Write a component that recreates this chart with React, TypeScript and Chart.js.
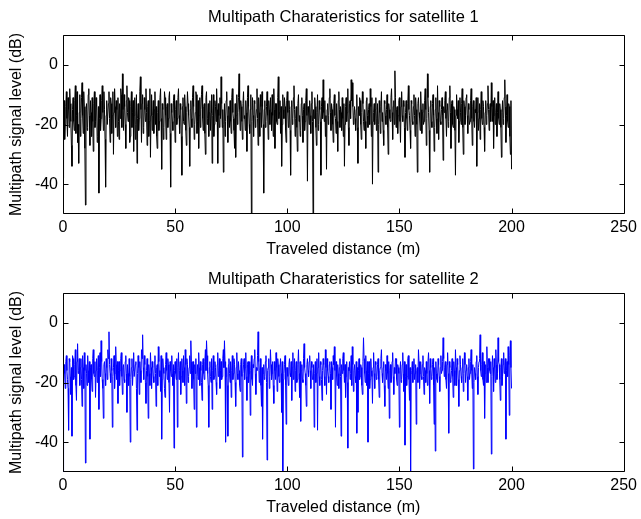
import { useEffect, useRef } from "react";
import { Chart, registerables } from "chart.js";

Chart.register(...registerables);

// sampling step of the traveled distance (m)
const STEP_M = 0.25;

// Satellite 1 multipath signal level (dB), one value every 0.25 m from 0 to 200 m (40 per row = 10 m)
const SAT1_DB = [
  -38, -16, -12, -25, -20, -14, -9, -18, -24, -11, -15, -21, -8, -13, -19, -27, -34, -15, -11, -19, -22, -12, -7, -23, -17, -9, -26, -20, -33, -16, -10, -24, -18, -11, -6, -17, -23, -9, -14, -28,
  -47, -15, -13, -22, -21, -10, -8, -17, -27, -12, -16, -24, -11, -19, -29, -13, -9, -21, -19, -11, -14, -26, -24, -14, -43, -18, -10, -22, -18, -12, -7, -16, -22, -9, -15, -25, -41, -17, -12, -20,
  -20, -13, -9, -18, -26, -11, -13, -23, -17, -9, -30, -16, -8, -14, -21, -12, -15, -24, -11, -19, -25, -13, -18, -8, -10, -21, -3, -15, -22, -10, -14, -20, -28, -12, -7, -16, -19, -11, -12, -26,
  -24, -14, -9, -21, -16, -12, -29, -17, -11, -25, -20, -10, -33, -18, -13, -22, -18, -9, -4, -15, -26, -13, -10, -23, -21, -11, -15, -19, -8, -16, -27, -14, -12, -24, -19, -8, -31, -17, -10, -22,
  -17, -12, -23, -15, -9, -20, -14, -24, -28, -16, -12, -22, -19, -11, -8, -18, -35, -13, -15, -25, -21, -9, -11, -17, -25, -14, -13, -21, -18, -11, -9, -23, -41, -13, -16, -19, -22, -12, -10, -18,
  -26, -15, -12, -20, -18, -11, -8, -17, -23, -13, -15, -24, -37, -14, -11, -19, -20, -10, -14, -22, -27, -16, -9, -13, -17, -21, -34, -15, -12, -18, -21, -11, -7, -14, -25, -20, -16, -9, -10, -23,
  -19, -12, -28, -17, -11, -21, -15, -10, -7, -18, -22, -14, -13, -23, -30, -11, -9, -20, -18, -13, -24, -16, -12, -22, -16, -10, -33, -17, -10, -24, -20, -12, -14, -19, -8, -15, -33, -13, -17, -21,
  -11, -18, -4, -13, -21, -15, -36, -20, -13, -24, -19, -12, -9, -17, -26, -14, -15, -21, -12, -19, -23, -11, -8, -16, -18, -22, -28, -13, -31, -17, -10, -20, -16, -11, -3, -15, -22, -12, -14, -19,
  -25, -13, -9, -18, -17, -22, -12, -16, -29, -11, -7, -14, -20, -23, -15, -10, -50, -19, -11, -17, -24, -12, -13, -21, -18, -15, -8, -18, -27, -11, -16, -24, -10, -14, -21, -9, -14, -20, -43, -15,
  -12, -21, -19, -14, -9, -17, -25, -12, -15, -20, -11, -16, -22, -10, -17, -24, -8, -15, -28, -13, -13, -19, -20, -11, -4, -18, -16, -12, -23, -14, -34, -20, -10, -15, -18, -11, -14, -22, -26, -12,
  -9, -16, -21, -12, -15, -22, -37, -14, -12, -20, -18, -11, -7, -15, -24, -18, -14, -21, -29, -13, -10, -19, -17, -24, -22, -13, -11, -17, -26, -15, -13, -22, -19, -12, -8, -17, -39, -14, -16, -20,
  -12, -17, -23, -13, -9, -19, -50, -15, -18, -11, -14, -21, -27, -16, -10, -22, -20, -12, -15, -19, -37, -14, -11, -18, -5, -16, -19, -12, -24, -17, -35, -15, -13, -20, -17, -11, -8, -16, -22, -13,
  -15, -20, -26, -13, -10, -17, -18, -23, -13, -19, -29, -12, -9, -15, -21, -14, -16, -22, -11, -18, -24, -13, -34, -20, -14, -11, -19, -16, -8, -21, -27, -13, -12, -18, -5, -12, -6, -14, -20, -17,
  -14, -18, -22, -15, -10, -21, -33, -14, -17, -11, -12, -20, -25, -16, -9, -13, -19, -22, -15, -19, -28, -12, -11, -17, -21, -15, -13, -20, -8, -14, -24, -11, -40, -19, -16, -13, -20, -15, -11, -22,
  -18, -13, -36, -20, -12, -16, -23, -14, -9, -19, -16, -22, -27, -12, -13, -17, -20, -15, -10, -21, -30, -13, -15, -18, -19, -11, -8, -16, -25, -14, -12, -20, -2, -11, -21, -15, -14, -23, -17, -12,
  -11, -19, -26, -14, -9, -17, -19, -12, -14, -21, -31, -16, -12, -18, -22, -13, -7, -15, -17, -22, -28, -12, -13, -19, -20, -14, -10, -17, -24, -11, -15, -20, -36, -13, -11, -16, -18, -22, -9, -15,
  -23, -16, -13, -20, -19, -12, -8, -15, -27, -18, -3, -11, -16, -22, -36, -14, -12, -19, -21, -13, -10, -17, -29, -21, -15, -11, -18, -23, -7, -16, -25, -12, -14, -19, -20, -15, -11, -17, -32, -14,
  -16, -12, -9, -18, -24, -15, -13, -21, -19, -11, -7, -16, -28, -13, -12, -20, -21, -14, -15, -22, -37, -17, -10, -15, -18, -12, -26, -19, -11, -16, -20, -13, -8, -21, -30, -12, -14, -20, -17, -11,
  -10, -17, -23, -13, -15, -20, -19, -12, -8, -18, -27, -14, -12, -19, -21, -15, -16, -11, -34, -16, -11, -22, -18, -13, -25, -15, -9, -18, -20, -12, -14, -21, -29, -16, -12, -20, -17, -13, -7, -15,
  -22, -15, -13, -19, -6, -14, -19, -12, -28, -17, -11, -20, -16, -13, -24, -16, -9, -18, -20, -13, -15, -21, -31, -16, -12, -20, -18, -11, -5, -14, -26, -17, -10, -19, -21, -13, -14, -24, -30, -12,
  -35,
];

// Satellite 2 multipath signal level (dB), one value every 0.25 m from 0 to 200 m (40 per row = 10 m)
const SAT2_DB = [
  -50, -20, -14, -17, -22, -13, -11, -16, -19, -22, -36, -12, -13, -18, -24, -15, -38, -11, -12, -19, -18, -14, -9, -21, -26, -13, -7, -17, -16, -12, -21, -15, -12, -19, -28, -11, -15, -22, -10, -16,
  -47, -14, -17, -21, -11, -16, -20, -13, -39, -15, -14, -19, -23, -12, -9, -17, -18, -13, -25, -16, -12, -20, -16, -11, -29, -15, -10, -18, -6, -13, -19, -22, -32, -14, -13, -17, -21, -12, -15, -19,
  -9, -12, -3, -14, -17, -20, -12, -16, -35, -18, -15, -11, -22, -17, -8, -14, -19, -13, -27, -16, -13, -21, -16, -12, -10, -18, -24, -15, -14, -19, -20, -13, -11, -17, -30, -14, -17, -21, -12, -18,
  -40, -19, -15, -12, -21, -16, -10, -18, -18, -14, -13, -22, -36, -17, -11, -15, -24, -13, -16, -20, -9, -12, -4, -15, -19, -11, -14, -20, -27, -16, -12, -18, -32, -14, -17, -21, -10, -15, -22, -13,
  -15, -18, -20, -13, -11, -17, -28, -15, -14, -21, -8, -13, -18, -16, -23, -11, -39, -19, -12, -15, -17, -22, -25, -14, -10, -16, -19, -12, -14, -20, -30, -13, -16, -18, -11, -17, -21, -14, -42, -16,
  -13, -17, -19, -12, -35, -15, -10, -19, -16, -13, -24, -18, -12, -16, -20, -11, -15, -21, -9, -14, -27, -12, -14, -20, -18, -15, -11, -17, -6, -13, -22, -16, -13, -19, -29, -14, -17, -12, -35, -18,
  -14, -19, -10, -15, -21, -13, -16, -20, -26, -14, -12, -17, -19, -13, -9, -16, -6, -11, -17, -21, -35, -15, -13, -18, -20, -12, -29, -16, -11, -19, -18, -13, -15, -20, -24, -14, -10, -18, -16, -12,
  -22, -16, -13, -19, -18, -12, -9, -15, -6, -13, -40, -18, -15, -21, -38, -14, -12, -17, -20, -13, -25, -16, -11, -19, -17, -12, -14, -20, -28, -15, -10, -17, -19, -13, -16, -21, -23, -14, -12, -18,
  -45, -17, -14, -12, -19, -15, -10, -18, -26, -14, -13, -20, -17, -13, -31, -16, -11, -19, -21, -14, -15, -12, -9, -17, -24, -15, -16, -11, -3, -13, -20, -16, -12, -21, -28, -15, -39, -17, -14, -19,
  -18, -13, -11, -20, -46, -16, -15, -12, -22, -18, -9, -14, -19, -17, -13, -21, -27, -13, -16, -19, -10, -15, -23, -12, -14, -18, -20, -15, -12, -17, -30, -13, -50, -19, -17, -14, -11, -21, -34, -15,
  -15, -18, -21, -14, -12, -17, -18, -13, -26, -15, -10, -19, -16, -12, -23, -16, -13, -20, -19, -14, -9, -17, -25, -13, -33, -16, -14, -19, -20, -12, -7, -15, -17, -21, -28, -14, -12, -16, -18, -13,
  -11, -16, -22, -13, -15, -19, -19, -14, -35, -17, -13, -20, -17, -12, -36, -15, -10, -18, -21, -13, -14, -19, -26, -16, -12, -14, -18, -21, -9, -15, -24, -12, -16, -18, -20, -14, -13, -17, -29, -13,
  -15, -19, -11, -14, -8, -16, -35, -13, -18, -21, -14, -17, -22, -15, -12, -18, -38, -14, -17, -12, -10, -16, -20, -14, -25, -18, -13, -20, -42, -15, -16, -13, -19, -17, -11, -21, -8, -14, -23, -16,
  -14, -18, -20, -13, -37, -15, -30, -16, -12, -19, -18, -14, -15, -21, -24, -13, -5, -12, -17, -20, -11, -16, -21, -13, -40, -17, -13, -22, -19, -12, -16, -18, -27, -15, -10, -17, -22, -13, -14, -19,
  -18, -14, -12, -19, -25, -16, -15, -12, -9, -17, -20, -15, -13, -21, -28, -14, -16, -19, -11, -17, -22, -13, -32, -16, -14, -20, -19, -13, -10, -18, -24, -15, -17, -12, -12, -19, -21, -14, -15, -17,
  -35, -16, -13, -20, -19, -14, -10, -17, -23, -13, -41, -18, -14, -21, -18, -12, -11, -19, -26, -15, -50, -17, -16, -13, -20, -15, -12, -19, -17, -14, -34, -16, -15, -20, -9, -13, -22, -17, -13, -18,
  -19, -14, -11, -18, -24, -15, -16, -20, -13, -17, -21, -13, -10, -16, -27, -12, -15, -19, -18, -14, -12, -21, -34, -15, -43, -13, -17, -19, -20, -12, -14, -18, -23, -15, -11, -17, -16, -13, -5, -12,
  -18, -15, -13, -19, -22, -14, -10, -17, -37, -13, -15, -20, -19, -16, -12, -18, -25, -13, -16, -21, -9, -15, -21, -12, -14, -19, -28, -16, -11, -14, -18, -20, -15, -12, -23, -17, -10, -14, -20, -16,
  -14, -18, -26, -15, -12, -19, -17, -13, -9, -16, -22, -14, -49, -20, -15, -17, -19, -13, -11, -18, -24, -15, -13, -12, -4, -16, -18, -14, -10, -19, -21, -13, -32, -17, -14, -20, -8, -15, -20, -12,
  -12, -16, -17, -13, -44, -18, -11, -15, -23, -12, -15, -20, -9, -14, -19, -17, -5, -13, -14, -19, -26, -15, -12, -21, -18, -14, -10, -17, -16, -12, -39, -16, -13, -18, -8, -14, -31, -11, -6, -15,
  -22,
];

const X_TICKS = [0, 50, 100, 150, 200, 250];
const Y_TICKS = [-40, -20, 0];
const X_RANGE = [0, 250];
const Y_RANGE = [-50, 10];

const TITLES = [
  "Multipath Charateristics for satellite 1",
  "Multipath Charateristics for satellite 2",
];
const X_LABEL = "Traveled distance (m)";
const Y_LABEL = "Multipath signal level (dB)";

const FONT = '"Liberation Sans", Arial, Helvetica, sans-serif';

type PanelCfg = {
  values: number[];
  color: string;
  title: string;
  titleY: number;
};

const framePlugin = {
  id: "matlabFrame",
  afterDraw(chart: any, _args: any, opts: any) {
    const { ctx, chartArea } = chart;
    const xs = chart.scales.x;
    const ys = chart.scales.y;
    const L = Math.round(chartArea.left) + 0.5;
    const R = Math.round(chartArea.right) + 0.5;
    const T = Math.round(chartArea.top) + 0.5;
    const B = Math.round(chartArea.bottom) - 0.5;
    const tl = 5;
    ctx.save();
    ctx.strokeStyle = "#000";
    ctx.lineWidth = 1;
    ctx.beginPath();
    ctx.rect(L, T, R - L, B - T);
    ctx.stroke();
    ctx.beginPath();
    for (const v of X_TICKS) {
      const px = Math.round(xs.getPixelForValue(v)) + 0.5;
      ctx.moveTo(px, B);
      ctx.lineTo(px, B - tl);
      ctx.moveTo(px, T);
      ctx.lineTo(px, T + tl);
    }
    for (const v of Y_TICKS) {
      const py = Math.round(ys.getPixelForValue(v)) + 0.5;
      ctx.moveTo(L, py);
      ctx.lineTo(L + tl, py);
      ctx.moveTo(R, py);
      ctx.lineTo(R - tl, py);
    }
    ctx.stroke();

    ctx.fillStyle = "#000";
    ctx.textAlign = "center";
    ctx.textBaseline = "middle";
    const cx = (chartArea.left + chartArea.right) / 2;
    ctx.font = `16.5px ${FONT}`;
    ctx.fillText(opts.title, cx, opts.titleY);
    ctx.font = `16px ${FONT}`;
    ctx.fillText(X_LABEL, cx, chartArea.bottom + 36);
    ctx.save();
    ctx.translate(17, (chartArea.top + chartArea.bottom) / 2);
    ctx.rotate(-Math.PI / 2);
    ctx.fillText(Y_LABEL, 0, 0);
    ctx.restore();
    ctx.restore();
  },
};

function Panel({ cfg, top, height }: { cfg: PanelCfg; top: number; height: number }) {
  const ref = useRef<HTMLCanvasElement | null>(null);
  useEffect(() => {
    if (!ref.current) return;
    const points = cfg.values.map((v, i) => ({ x: i * STEP_M, y: v }));
    const chart = new Chart(ref.current, {
      type: "line",
      data: {
        datasets: [
          {
            data: points,
            borderColor: cfg.color,
            borderWidth: 1,
            pointRadius: 0,
            tension: 0,
            fill: false,
          },
        ],
      },
      options: {
        animation: false,
        responsive: false,
        events: [],
        layout: { padding: { left: 0, top: 35, right: 16, bottom: 0 } },
        plugins: {
          legend: { display: false },
          tooltip: { enabled: false },
          title: { display: false },
          // @ts-ignore
          matlabFrame: { title: cfg.title, titleY: cfg.titleY },
        },
        scales: {
          x: {
            type: "linear",
            min: X_RANGE[0],
            max: X_RANGE[1],
            afterBuildTicks: (s: any) => {
              s.ticks = X_TICKS.map((v) => ({ value: v }));
            },
            afterFit: (s: any) => {
              s.height = height - 214;
            },
            grid: { display: false, drawTicks: false },
            border: { display: false },
            ticks: {
              color: "#000",
              padding: 4,
              maxRotation: 0,
              autoSkip: false,
              font: { family: FONT, size: 16 },
            },
          },
          y: {
            type: "linear",
            min: Y_RANGE[0],
            max: Y_RANGE[1],
            afterBuildTicks: (s: any) => {
              s.ticks = Y_TICKS.map((v) => ({ value: v }));
            },
            afterFit: (s: any) => {
              s.width = 63;
            },
            grid: { display: false, drawTicks: false },
            border: { display: false },
            ticks: {
              color: "#000",
              padding: 5,
              autoSkip: false,
              font: { family: FONT, size: 16 },
            },
          },
        },
      },
      plugins: [framePlugin],
    });
    return () => chart.destroy();
  }, [cfg, height]);
  return (
    <canvas
      ref={ref}
      width={641}
      height={height}
      style={{ position: "absolute", left: 0, top, width: 641, height }}
    />
  );
}

const PANELS: PanelCfg[] = [
  { values: SAT1_DB, color: "#000000", title: TITLES[0], titleY: 17 },
  { values: SAT2_DB, color: "#0000ff", title: TITLES[1], titleY: 21 },
];

export default function App() {
  return (
    <div
      style={{
        position: "absolute",
        left: 0,
        top: 0,
        width: 641,
        height: 519,
        background: "#fff",
        overflow: "hidden",
      }}
    >
      <Panel cfg={PANELS[0]} top={0} height={259} />
      <Panel cfg={PANELS[1]} top={258} height={261} />
    </div>
  );
}
